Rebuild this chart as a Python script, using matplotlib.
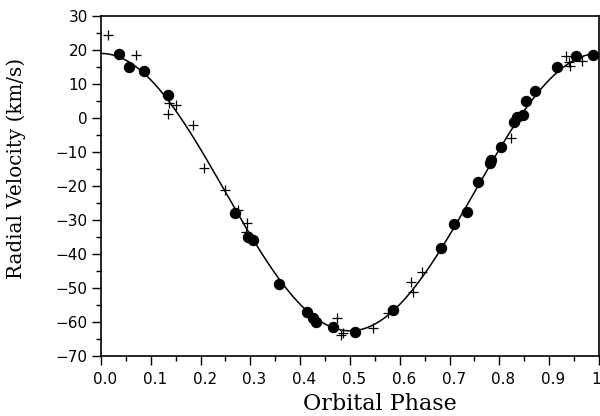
import numpy as np
import matplotlib
matplotlib.use("Agg")
import matplotlib.pyplot as plt
import matplotlib.transforms as mtransforms
from matplotlib.ticker import MultipleLocator

# Filled circles (phase, radial velocity km/s)
dot_phase = [0.036, 0.056, 0.086, 0.135, 0.270, 0.295, 0.305, 0.357,
             0.414, 0.426, 0.431, 0.465, 0.511, 0.587, 0.683, 0.708,
             0.734, 0.757, 0.782, 0.784, 0.803, 0.829, 0.835, 0.848,
             0.853, 0.871, 0.916, 0.953, 0.987]
dot_vel = [18.7, 15.0, 13.8, 6.8, -27.8, -34.9, -35.9, -48.8,
           -57.0, -58.9, -59.9, -61.4, -62.8, -56.5, -38.1, -31.2,
           -27.6, -18.7, -13.3, -12.4, -8.4, -1.3, 0.2, 0.8,
           5.0, 7.9, 14.9, 18.2, 18.5]

# Crosses
plus_phase = [0.015, 0.070, 0.134, 0.137, 0.150, 0.184, 0.207, 0.250,
              0.275, 0.293, 0.291, 0.473, 0.481, 0.486, 0.547, 0.576,
              0.622, 0.627, 0.644, 0.823, 0.933, 0.941, 0.940, 0.965]
plus_vel = [24.4, 18.5, 1.2, 4.3, 3.8, -2.1, -14.6, -21.2,
            -27.1, -31.0, -33.4, -58.9, -63.8, -63.3, -61.9, -57.3,
            -48.3, -51.3, -45.2, -5.8, 18.3, 15.2, 16.6, 16.8]

# Fitted orbit (circular): systemic velocity and semi-amplitude
gamma = -21.8
K = 40.8

x_ticklabels = ["0.0", "0.1", "0.2", "0.3", "0.4", "0.5", "0.6", "0.7", "0.8", "0.9", "1.0"]
y_ticklabels = ["\u221270", "\u221260", "\u221250", "\u221240", "\u221230", "\u221220",
                "\u221210", "0", "10", "20", "30"]

fig = plt.figure(figsize=(6.0, 4.16), dpi=100)
ax = fig.add_axes([0.1683, 0.1442, 0.8300, 0.8173])

phi = np.linspace(0, 1, 400)
ax.plot(phi, gamma + K * np.cos(2 * np.pi * phi), color="black", lw=1.1, zorder=2)
ax.plot(dot_phase, dot_vel, "o", color="black", ms=7.2, zorder=3)
ax.plot(plus_phase, plus_vel, "+", color="black", ms=7, mew=0.9, zorder=3)

ax.set_xlim(0, 1.0)
ax.set_ylim(-70, 30)
ax.set_xticks(np.arange(0, 1.01, 0.1))
ax.set_xticklabels(x_ticklabels)
ax.set_yticks(np.arange(-70, 31, 10))
ax.set_yticklabels(y_ticklabels)
ax.xaxis.set_minor_locator(MultipleLocator(0.05))
ax.yaxis.set_minor_locator(MultipleLocator(5))

ax.tick_params(axis="both", which="major", direction="out", length=6.5, width=1.0,
               labelsize=11, colors="black")
ax.tick_params(axis="x", which="major", pad=5)
ax.tick_params(axis="y", which="major", pad=3)
ax.tick_params(axis="both", which="minor", direction="out", length=3.5, width=1.0)
for s in ax.spines.values():
    s.set_linewidth(1.2)

shift = mtransforms.ScaledTranslation(4 / 100, 0, fig.dpi_scale_trans)
for lab in ax.get_xticklabels():
    lab.set_transform(lab.get_transform() + shift)

ax.set_xlabel("Orbital Phase", family="DejaVu Serif", fontsize=16)
ax.xaxis.set_label_coords(0.56, -0.108)
ax.set_ylabel("Radial Velocity (km/s)", family="DejaVu Serif", fontsize=14.3)
ax.yaxis.set_label_coords(-0.150, 0.553)

fig.savefig("out.png", dpi=100)
